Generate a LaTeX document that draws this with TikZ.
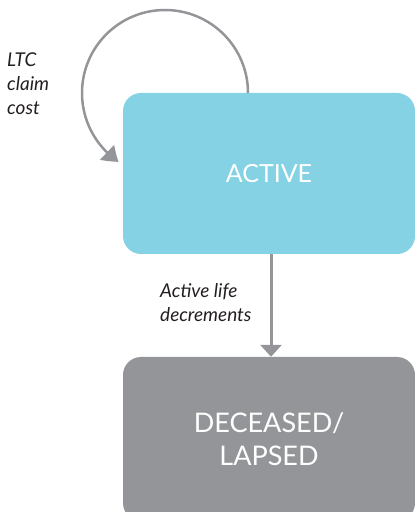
\documentclass[tikz,border=0pt]{standalone}
\usepackage{fontspec}
\setmainfont{Lato}
\usetikzlibrary{arrows.meta,bending}
\definecolor{activecyan}{HTML}{84D2E3}
\definecolor{deadgray}{HTML}{939598}
\definecolor{arrowgray}{HTML}{949599}
\definecolor{labeltext}{HTML}{231F20}
\begin{document}
\begin{tikzpicture}[x=1pt,y=1pt,
  statebox/.style={rectangle,rounded corners=18pt,inner sep=0pt,text=white,align=center},
  lbl/.style={font=\fontsize{19}{24}\selectfont\itshape,text=labeltext,align=left,inner sep=0pt,anchor=north west},
  conn/.style={draw=arrowgray,line width=3pt,-{Triangle[length=12pt,width=21pt]}},
  loopconn/.style={draw=arrowgray,line width=2.5pt,-{Triangle[length=15pt,width=20pt,bend]}}]
\useasboundingbox (0,0) rectangle (415,512);
\node[statebox,fill=activecyan,minimum width=292pt,minimum height=161pt,
  font=\fontsize{25}{33}\selectfont] (active) at (269,338.5) {ACTIVE};
\node[statebox,fill=deadgray,minimum width=292pt,minimum height=164pt,
  font=\fontsize{27}{33}\selectfont] (dead) at (269,73) {DECEASED/\\LAPSED};
\coordinate (loopstart) at (248,419);
\draw[loopconn] (loopstart) arc[start angle=0,end angle=236,radius=83];
\draw[conn] (active.south -| 271,0) -- (dead.north -| 271,0);
\node[lbl] (ltc) at (7,459) {LTC\\claim\\cost};
\node[lbl] (dec) at (160,229) {Active life\\decrements};
\end{tikzpicture}
\end{document}
